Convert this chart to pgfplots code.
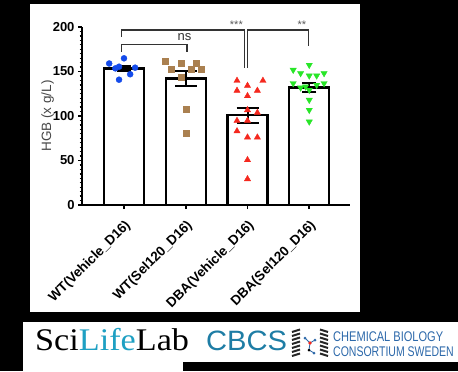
\documentclass[border=0pt]{standalone}
\usepackage{fontspec}
\setmainfont{Liberation Sans}
\newfontfamily\logoserif{Liberation Serif}
\usepackage{pgfplots}
\pgfplotsset{compat=1.18}
\definecolor{ptblue}{RGB}{20,75,235}
\definecolor{ptbrown}{RGB}{170,128,80}
\definecolor{ptred}{RGB}{245,40,30}
\definecolor{ptgreen}{RGB}{40,230,40}
\definecolor{lifeteal}{RGB}{30,160,195}
\definecolor{cbcsblue}{RGB}{30,125,165}
\definecolor{chemblue}{RGB}{45,105,170}
\begin{document}
\begin{tikzpicture}[x=1bp,y=1bp]
\fill[black] (0,0) rectangle (458,371);
\fill[white] (30,59) rectangle (360,367);
\fill[white] (23,0) rectangle (458,48.7);
\fill[black] (183,0) rectangle (458,9.3);
\begin{axis}[
  at={(82bp,166bp)}, anchor=south west,
  scale only axis, width=268bp, height=178bp,
  xmin=-0.68, xmax=3.66, ymin=0, ymax=200,
  axis x line=bottom, axis y line=left,
  axis line style={-, line width=2.2bp, black},
  xtick={0,1,2,3},
  xticklabels={WT(Vehicle\_D16),WT(Sel120\_D16),DBA(Vehicle\_D16),DBA(Sel120\_D16)},
  ytick={0,50,100,150,200}, minor y tick num=9,
  tick align=outside,
  major tick length=4bp, minor tick length=2.5bp,
  every tick/.style={black, line width=1.6bp},
  every minor tick/.style={black, line width=1.3bp},
  /pgf/number format/assume math mode=true,
  x tick label style={rotate=45, anchor=north east, font=\fontsize{13.5bp}{15bp}\selectfont\bfseries},
  xticklabel shift=5bp,
  y tick label style={font=\fontsize{13bp}{15bp}\selectfont\bfseries},
  ylabel={HGB (x g/L)},
  ylabel shift=-8bp,
  ylabel style={font=\fontsize{13.5bp}{16bp}\selectfont, color=black!72},
  clip=false,
]
\addplot[ybar, bar width=40bp, fill=white, draw=black, line width=2.3bp]
  coordinates {(0,153.5) (1,142) (2,101) (3,132)};
\addplot[only marks, mark=*, mark size=3bp, color=ptblue]
  coordinates {(-0.24,159) (0,164.8) (-0.08,155.4) (0.18,154.3) (0.1,146.9) (-0.08,140.8) (-0.14,153.5)};
\addplot[only marks, mark=square*, mark size=3bp, color=ptbrown]
  coordinates {(0.66,162) (0.92,159) (1.17,159) (0.76,152.8) (1.09,152.8) (1.25,152.8) (0.92,144) (1,108) (1,80.5)};
\addplot[only marks, mark=triangle*, mark size=3.6bp, color=ptred]
  coordinates {(1.83,139.7) (2.25,139.7) (2,134) (1.83,128.5) (2.16,128.5) (2,122.5) (2,106.7) (2.16,103.7) (1.83,94.7) (2,94.7) (1.83,83) (2,76) (2.16,76) (2,50.6) (2,29.2)};
\addplot[only marks, mark=triangle*, mark size=3.6bp, color=ptgreen, mark options={rotate=180}]
  coordinates {(3,157.3) (2.74,151.7) (2.86,148) (3,145.3) (3.12,145.3) (3.24,148) (2.74,136.7) (2.86,131.8) (2.94,133) (3,129.2) (3.12,134.8) (3.24,136.7) (3,118) (3,106.7) (3,93.6)};
\addplot[draw=none, mark=none, forget plot,
  error bars/.cd, y dir=both, y explicit,
  error bar style={draw=black, line width=2bp},
  error mark options={draw=black, rotate=90, line width=2bp, mark size=11bp}]
  coordinates {(1,142) +- (0,8.5) (2,101) +- (0,8.5)};
\addplot[draw=none, mark=none, forget plot,
  error bars/.cd, y dir=both, y explicit,
  error bar style={draw=black, line width=2bp},
  error mark options={draw=black, rotate=90, line width=2bp, mark size=7bp}]
  coordinates {(0,153.5) +- (0,3) (3,132) +- (0,4.8)};
\draw[black!80, line width=1.2bp] (axis cs:-0.04,189) |- (axis cs:1.95,196.6) -- (axis cs:1.95,154);
\draw[black!80, line width=1.2bp] (axis cs:2.0,154) |- (axis cs:2.99,196.6) -- (axis cs:2.99,179);
\draw[black!80, line width=1.2bp] (axis cs:-0.04,172) |- (axis cs:1.02,180) -- (axis cs:1.02,172);
\node[font=\fontsize{13bp}{15bp}\selectfont, text=black!80] at (axis cs:0.98,189) {ns};
\node[font=\fontsize{11bp}{13bp}\selectfont, text=black!65] at (axis cs:1.82,202.5) {***};
\node[font=\fontsize{11bp}{13bp}\selectfont, text=black!65] at (axis cs:2.88,202.5) {**};
\end{axis}
% logos
\node[anchor=base west, inner sep=0pt] at (35,21) {\scalebox{1.14}[1.05]{\logoserif\fontsize{30bp}{32bp}\selectfont Sci\textcolor{lifeteal}{Life}Lab}};
\node[anchor=base west, inner sep=0pt, text=cbcsblue] at (206,21) {\scalebox{1.04}[1]{\fontsize{28bp}{30bp}\selectfont CBCS}};
% icon
\foreach \yy in {15,19,23,27,31,35,39} {
  \draw[black!85, line width=2bp] (292,\yy) -- (300,\yy+2.5);
  \draw[black!85, line width=2bp] (320,\yy+2.5) -- (328,\yy);
}
\draw[chemblue, line width=0.8bp] (305,33) -- (310,28) -- (315,31) (310,28) -- (309,21) -- (314,18);
\fill[chemblue] (305,33) circle (1.5) (315,31) circle (1.5) (314,18) circle (1.5);
\fill[ptred] (310,28) circle (1.8);
\fill[black] (309,21) circle (1.5);
\node[anchor=base west, inner sep=0pt, text=chemblue] at (333,30) {\scalebox{0.79}[1]{\fontsize{14bp}{16bp}\selectfont CHEMICAL BIOLOGY}};
\node[anchor=base west, inner sep=0pt, text=chemblue] at (333,15) {\scalebox{0.75}[1]{\fontsize{14bp}{16bp}\selectfont CONSORTIUM SWEDEN}};
\pgfresetboundingbox
\useasboundingbox (0,0) rectangle (458,371);
\end{tikzpicture}
\end{document}
